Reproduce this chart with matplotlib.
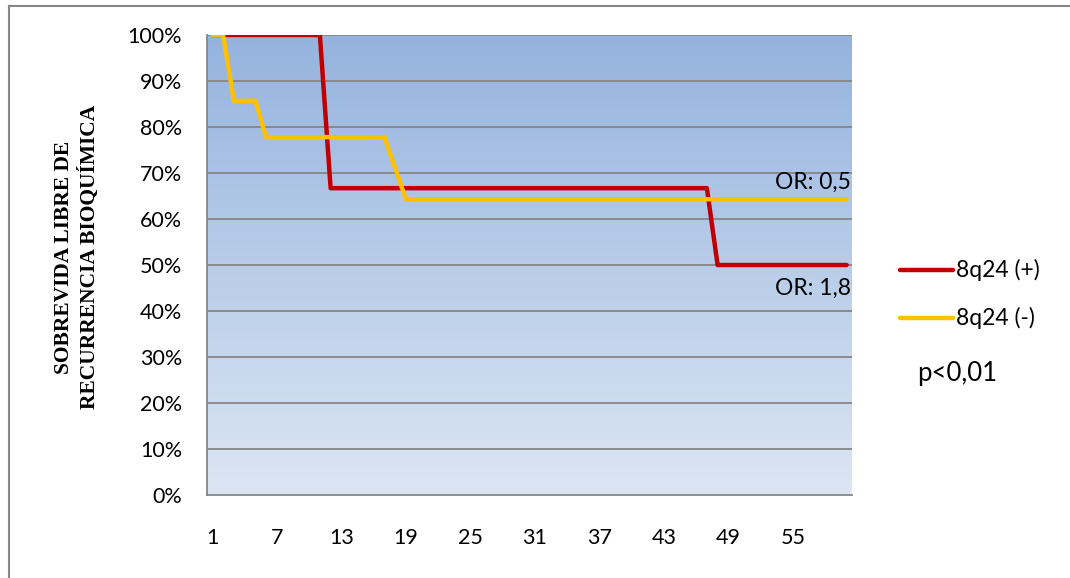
import numpy as np
import matplotlib.pyplot as plt
from matplotlib.colors import LinearSegmentedColormap

# categorias (meses) 1..60
meses = list(range(1, 61))
tick_labels = ['1', '7', '13', '19', '25', '31', '37', '43', '49', '55']

# 8q24 (+)
pos = [1.0] * 11 + [0.667] * 36 + [0.5] * 13
# 8q24 (-)
neg = [1.0] * 2 + [0.857] * 3 + [0.778] * 12 + [0.711] + [0.643] * 42

W, H = 1070, 578
fig = plt.figure(figsize=(W / 100, H / 100), dpi=100)
plt.rcParams['font.family'] = ['Lato', 'DejaVu Sans']

ax = fig.add_axes([207 / W, (H - 495) / H, 645 / W, 460 / H])
x = np.arange(len(meses))
ax.set_xlim(-0.5, len(meses) - 0.5)
ax.set_ylim(0, 1)

# fondo degradado
cmap = LinearSegmentedColormap.from_list('fondo', ['#dce6f3', '#95b3de'])
grad = np.linspace(0, 1, 256).reshape(-1, 1)
ax.imshow(grad, cmap=cmap, origin='lower', aspect='auto',
          extent=(-0.5, len(meses) - 0.5, 0, 1), zorder=0)

for v in np.arange(0.1, 1.01, 0.1):
    ax.axhline(v, color='#868686', lw=1.3, zorder=1)

ax.plot(x, pos, color='#c00000', lw=3.2, zorder=3, solid_capstyle='round', solid_joinstyle='round')
ax.plot(x, neg, color='#ffc000', lw=3.2, zorder=3, solid_capstyle='round', solid_joinstyle='round')

ax.set_yticks(np.arange(0, 1.01, 0.1))
ax.set_yticklabels(['%d%%' % round(v * 100) for v in np.arange(0, 1.01, 0.1)], fontsize=15.5)
ax.set_xticks(x[::6])
ax.set_xticklabels(tick_labels, fontsize=15.5)
ax.tick_params(length=0)
ax.tick_params(axis='y', pad=18)
ax.tick_params(axis='x', pad=24)

for s in ['top', 'right']:
    ax.spines[s].set_visible(False)
for s in ['left', 'bottom']:
    ax.spines[s].set_color('#868686')
    ax.spines[s].set_linewidth(1.3)

ax.set_ylabel('SOBREVIDA LIBRE DE\nRECURRENCIA BIOQUÍMICA', family='Liberation Serif',
              fontweight='bold', fontsize=15.5, linespacing=1.3)
ax.yaxis.set_label_coords(-107 / 645, 0.517)

ax.text(59.4, 0.68, 'OR: 0,5', ha='right', va='center', fontsize=16.5)
ax.text(59.4, 0.45, 'OR: 1,8', ha='right', va='center', fontsize=16.5)

# leyenda manual
fig.add_artist(plt.Line2D([900 / W, 953 / W], [1 - 270 / H] * 2, color='#c00000', lw=3.2,
                          solid_capstyle='round'))
fig.add_artist(plt.Line2D([900 / W, 953 / W], [1 - 318 / H] * 2, color='#ffc000', lw=3.2,
                          solid_capstyle='round'))
fig.text(956 / W, 1 - 270 / H, '8q24 (+)', ha='left', va='center', fontsize=16.5)
fig.text(956 / W, 1 - 318 / H, '8q24 (-)', ha='left', va='center', fontsize=16.5)
fig.text(917 / W, 1 - 373 / H, 'p<0,01', ha='left', va='center', fontsize=18.5)

# borde exterior
fig.add_artist(plt.Line2D([8.5 / W, 8.5 / W], [0, 1 - 5.5 / H], color='#868686', lw=1.5))
fig.add_artist(plt.Line2D([8.5 / W, 1], [1 - 5.5 / H] * 2, color='#868686', lw=1.5))

fig.savefig('out.png', dpi=100)
